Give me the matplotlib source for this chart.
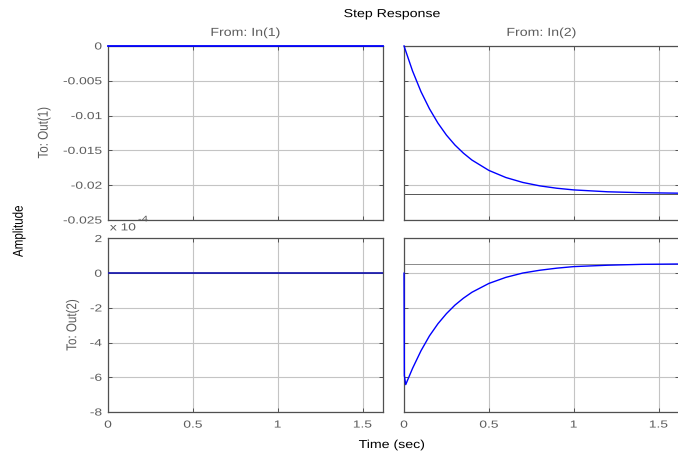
import numpy as np
import matplotlib
matplotlib.use('Agg')
from matplotlib import pyplot as plt
from matplotlib.textpath import TextPath
from matplotlib.patches import PathPatch
from matplotlib.font_manager import FontProperties
from matplotlib.transforms import Affine2D, IdentityTransform

# step response samples
t_in1 = [0, 1.62]
out1_in1 = [0, 0]
out2_in1 = [0, 0]

t_out1_in2 = [0, 0.05, 0.1, 0.15, 0.2, 0.25, 0.3, 0.35, 0.4, 0.5, 0.6, 0.7,
              0.8, 0.9, 1.0, 1.2, 1.4, 1.62]
out1_in2 = [0, -0.00358, -0.00657, -0.00903, -0.01109, -0.01281, -0.01423,
            -0.0154, -0.01639, -0.01788, -0.0189, -0.01961, -0.0201, -0.02044,
            -0.02068, -0.02095, -0.02108, -0.02115]
final_out1_in2 = -0.0212

t_out2_in2 = [0, 0.002, 0.01, 0.05, 0.1, 0.15, 0.2, 0.25, 0.3, 0.35, 0.4, 0.5,
              0.6, 0.7, 0.8, 0.9, 1.0, 1.2, 1.4, 1.62]
out2_in2 = [0, -5.9e-4, -6.42e-4, -5.49e-4, -4.47e-4, -3.61e-4, -2.91e-4,
            -2.33e-4, -1.84e-4, -1.44e-4, -1.1e-4, -0.59e-4, -0.24e-4, 0.01e-4,
            0.17e-4, 0.29e-4, 0.38e-4, 0.46e-4, 0.51e-4, 0.53e-4]
final_out2_in2 = 0.55e-4

xticks = [0, 0.5, 1, 1.5]
xticklabels = ['0', '0.5', '1', '1.5']
yticks_top = [0, -0.005, -0.01, -0.015, -0.02, -0.025]
yticklabels_top = ['0', '-0.005', '-0.01', '-0.015', '-0.02', '-0.025']
yticks_bot = [2e-4, 0, -2e-4, -4e-4, -6e-4, -8e-4]
yticklabels_bot = ['2', '0', '-2', '-4', '-6', '-8']

GRAY = '#5c5c5c'
BLUE = '#0000ff'
FONT = FontProperties(family='Liberation Sans')
PX = 100 / 72.0          # points -> pixels
TICK_PT, TICK_STRETCH = 7.35, 1.35
LAB_PT, LAB_STRETCH = 8.35, 1.22

fig = plt.figure(figsize=(6.78, 4.56), dpi=100)
H = 456


def draw_text(x, y, s, size, color, ha='center', va='center', rotation=0,
              stretch=LAB_STRETCH):
    # text as a path so it can be widened like the reference (x/y in pixels)
    path = TextPath((0, 0), s, size=size * PX, prop=FONT)
    path = Affine2D().rotate_deg(rotation).scale(stretch, 1).transform_path(path)
    ext = path.get_extents()
    dx = {'left': -ext.x0, 'center': -(ext.x0 + ext.x1) / 2, 'right': -ext.x1}[ha]
    dy = {'bottom': -ext.y0, 'center': -(ext.y0 + ext.y1) / 2, 'top': -ext.y1}[va]
    path = Affine2D().translate(x + dx, y + dy).transform_path(path)
    fig.add_artist(PathPatch(path, facecolor=color, edgecolor='none', lw=0,
                             transform=IdentityTransform()))


w = 0.4056
ax_tl = fig.add_axes([0.1593, 0.5154, w, 0.3816])
ax_tr = fig.add_axes([0.5959, 0.5154, w, 0.3816])
ax_bl = fig.add_axes([0.1593, 0.0943, w, 0.3805])
ax_br = fig.add_axes([0.5959, 0.0943, w, 0.3805])

for ax in (ax_tl, ax_tr, ax_bl, ax_br):
    ax.set_xlim(0, 1.62)
    ax.set_xticks(xticks)
    ax.grid(True, color='#c4c4c4', linewidth=0.8)
    ax.set_axisbelow(True)
    ax.tick_params(direction='in', top=True, right=True, length=3, width=0.6,
                   colors='#404040', labelleft=False, labelbottom=False)
    for s in ax.spines.values():
        s.set_color('#505050')
        s.set_linewidth(0.9)
for ax in (ax_tl, ax_tr):
    ax.set_ylim(-0.025, 0)
    ax.set_yticks(yticks_top)
for ax in (ax_bl, ax_br):
    ax.set_ylim(-8e-4, 2e-4)
    ax.set_yticks(yticks_bot)

# steady-state lines
ax_tl.axhline(0, color='#555555', lw=0.7)
ax_tr.axhline(final_out1_in2, color='#555555', lw=0.7)
ax_bl.axhline(0, color='#555555', lw=0.7)
ax_br.axhline(final_out2_in2, color='#8a8a8a', lw=0.7)

ax_tl.plot(t_in1, out1_in1, color=BLUE, lw=1.3, clip_on=False, zorder=3)
ax_bl.plot(t_in1, out2_in1, color='#2020b0', lw=1.3, zorder=3)
ax_tr.plot(t_out1_in2, out1_in2, color=BLUE, lw=1.0, clip_on=False, zorder=3)
ax_br.plot(t_out2_in2, out2_in2, color=BLUE, lw=1.0, clip_on=False, zorder=3)

# tick labels
for ax, ticks, labels in ((ax_tl, yticks_top, yticklabels_top),
                          (ax_bl, yticks_bot, yticklabels_bot)):
    for v, lab in zip(ticks, labels):
        px, py = ax.transData.transform((0, v))
        draw_text(px - 6.5, py, lab, TICK_PT, GRAY, ha='right',
                  stretch=TICK_STRETCH)
for ax in (ax_bl, ax_br):
    for v, lab in zip(xticks, xticklabels):
        px, py = ax.transData.transform((v, -8e-4))
        draw_text(px, py - 8.5, lab, TICK_PT, GRAY, va='top',
                  stretch=TICK_STRETCH)

# panel labels
for ax, s in ((ax_tl, 'From: In(1)'), (ax_tr, 'From: In(2)')):
    cx, top = ax.transAxes.transform((0.5, 1))
    draw_text(cx, top + 18.5, s, LAB_PT, GRAY, va='top')
x0, cy = ax_tl.transAxes.transform((0, 0.5))
draw_text(x0 - 64, cy, 'To: Out(1)', LAB_PT, GRAY, rotation=90)
x0, cy = ax_bl.transAxes.transform((0, 0.5))
draw_text(x0 - 35.5, cy, 'To: Out(2)', LAB_PT, GRAY, rotation=90)

# exponent above the lower-left panel
x0, top = ax_bl.transAxes.transform((0, 1))
draw_text(x0 + 2, top + 8, 'x 10', TICK_PT, GRAY, ha='left', va='bottom',
          stretch=TICK_STRETCH)
draw_text(x0 + 30.5, top + 17, '-4', 6.0, GRAY, ha='left', va='bottom',
          stretch=TICK_STRETCH)

draw_text(392, H - 10, 'Step Response', LAB_PT, 'black', va='top')
draw_text(391.5, H - 446, 'Time (sec)', LAB_PT, 'black')
draw_text(19, H - 232.5, 'Amplitude', LAB_PT, 'black', rotation=90)

fig.savefig('out.png', dpi=100, facecolor='white')
